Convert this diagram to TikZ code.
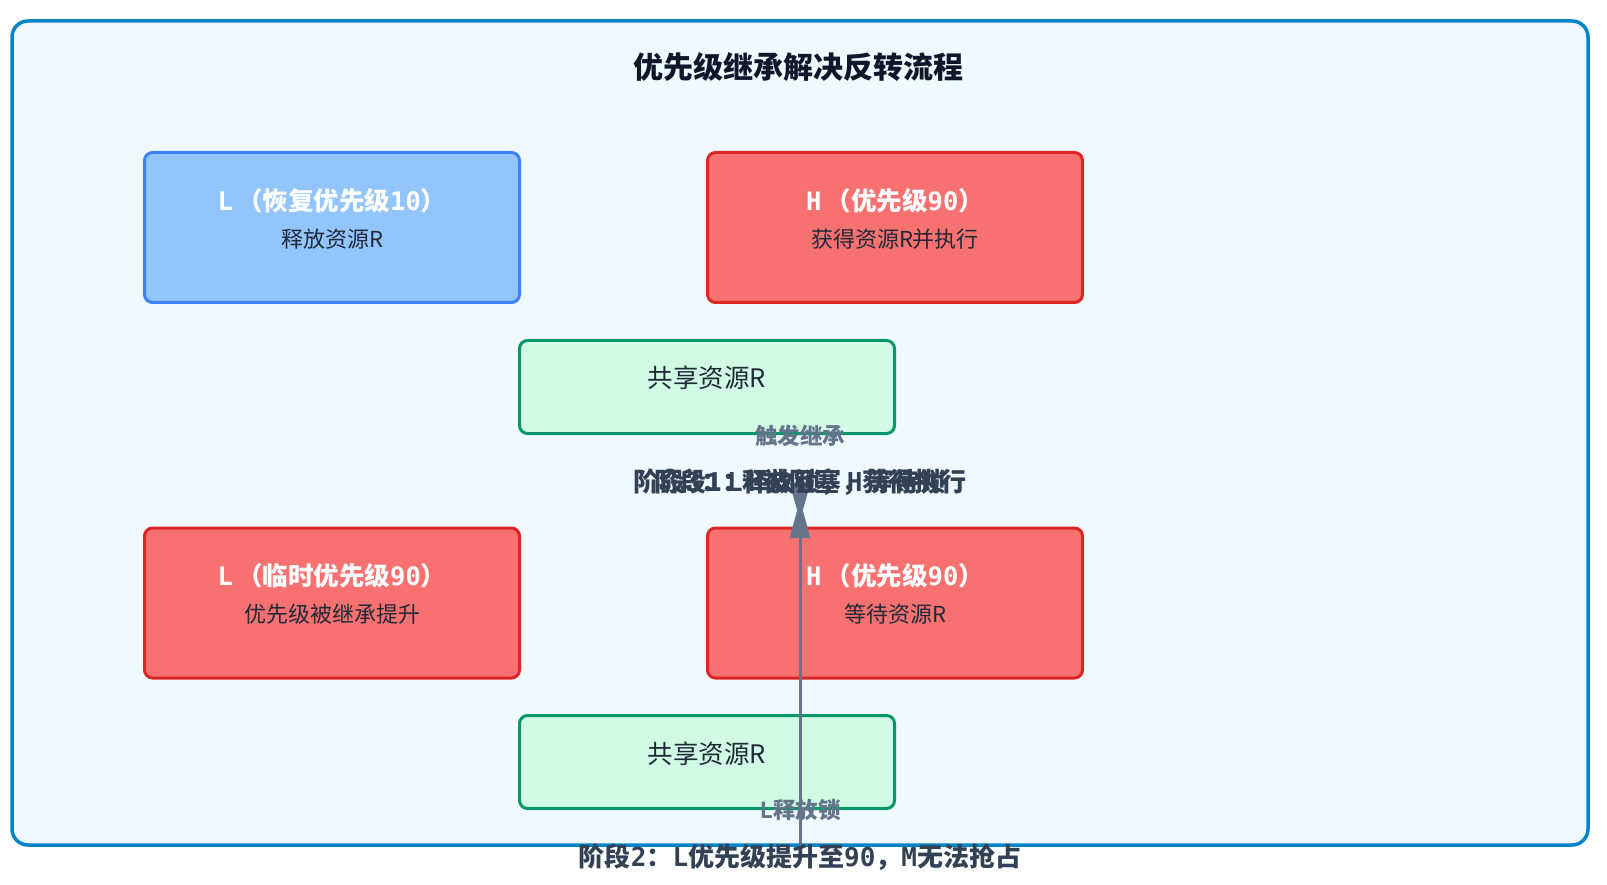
\documentclass[tikz,border=0pt]{standalone}
\usepackage{fontspec}
\setmainfont{Noto Sans CJK SC}
\setmonofont{DejaVu Sans Mono}
\usepackage{xcolor}
\usepackage{tikz}
\usetikzlibrary{positioning,arrows.meta}

\definecolor{frameline}{HTML}{0284C7}
\definecolor{framefill}{HTML}{F0F9FF}
\definecolor{blueline}{HTML}{3B82F6}
\definecolor{bluefill}{HTML}{93C5FD}
\definecolor{redline}{HTML}{DC2626}
\definecolor{redfill}{HTML}{F87171}
\definecolor{greenline}{HTML}{059669}
\definecolor{greenfill}{HTML}{D1FAE5}
\definecolor{slate}{HTML}{64748B}
\definecolor{darktext}{HTML}{334155}
\definecolor{boxtext}{HTML}{1F2937}
\definecolor{titletext}{HTML}{0F172A}

\newcommand{\lat}[1]{{\ttfamily #1}}

\begin{document}
\begin{tikzpicture}[
						x=1pt, y=-1pt,
						frame_box/.style={
							draw=frameline, fill=framefill, line width=3.5pt,
							rounded corners=16pt
						},
						task_box/.style={
							line width=3pt, rounded corners=8pt,
							minimum width=375pt, minimum height=150pt
						},
						res_box/.style={
							draw=greenline, fill=greenfill, line width=3pt, rounded corners=8pt,
							minimum width=375pt, minimum height=93pt
						},
						title_text/.style={
							font=\fontsize{30}{35}\selectfont\bfseries, text=titletext
						},
						box_title/.style={
							font=\fontsize{25.5}{30}\selectfont\bfseries, text=white
						},
						box_text/.style={
							font=\fontsize{22}{26}\selectfont, text=boxtext
						},
						res_text/.style={
							font=\fontsize{25.5}{30}\selectfont, text=boxtext
						},
						link/.style={
							-{Triangle[length=38pt, width=20pt]}, slate, line width=3pt
						},
						link_text/.style={
							font=\fontsize{22.5}{26}\selectfont\bfseries, text=slate
						},
						phase_text/.style={
							font=\fontsize{26}{30}\selectfont\bfseries, text=darktext
						}
						]
						\useasboundingbox (0,0) rectangle (1607,885);
						
						% === 外框与标题 ===
						\draw[frame_box] (12,21) rectangle (1588,845);
						\node[title_text] (title) at (798,67) {优先级继承解决反转流程};
						
						% === 上组：L恢复, H执行 ===
						\node[task_box, draw=blueline, fill=bluefill] (ltop) at (332,227.5) {};
						\node[box_title] (ltop_t) at (332,201) {\lat{L}\,（恢复优先级\lat{10}）};
						\node[box_text] (ltop_s) at (332,239) {释放资源R};
						
						\node[task_box, draw=redline, fill=redfill] (htop) at (895,227.5) {};
						\node[box_title] (htop_t) at (895,201) {\lat{H}\,（优先级\lat{90}）};
						\node[box_text] (htop_s) at (895,239) {获得资源R并执行};
						
						\node[res_box] (rtop) at (707,387) {};
						\node[res_text] (rtop_t) at (707,378) {共享资源R};
						
						% === 下组：L提升, H等待 ===
						\node[task_box, draw=redline, fill=redfill] (lbot) at (332,603) {};
						\node[box_title] (lbot_t) at (332,576) {\lat{L}\,（临时优先级\lat{90}）};
						\node[box_text] (lbot_s) at (332,614) {优先级被继承提升};
						
						\node[task_box, draw=redline, fill=redfill] (hbot) at (895,603) {};
						\node[box_title] (hbot_t) at (895,576) {\lat{H}\,（优先级\lat{90}）};
						\node[box_text] (hbot_s) at (895,614) {等待资源R};
						
						\node[res_box] (rbot) at (707,762) {};
						\node[res_text] (rbot_t) at (707,754) {共享资源R};
						
						% 箭头
						\coordinate (arr_bot) at (800,846);
						\coordinate (arr_top) at (800,500);
						\draw[link] (arr_bot) -- (arr_top);
						\coordinate (tip_a) at (800,483);
						\coordinate (tip_b) at (800,521);
						\draw[link] (tip_a) -- (tip_b);
						
						% 箭头标签
						\node[link_text] (lab_top) at (800,436) {触发继承};
						\node[link_text] (lab_bot) at (800,810) {\lat{L}释放锁};
						
						% === 阶段说明 ===
						\node[phase_text] (phase1) at (800,482) {阶段1：\lat{H}被阻塞，等待锁};
						\node[phase_text] (phase3) at (800,482) {阶段\lat{3}：\lat{L}释放锁，\lat{H}获得执行};
						\node[phase_text] (phase2) at (800,857) {阶段\lat{2}：\lat{L}优先级提升至\lat{90}，\lat{M}无法抢占};
						
					\end{tikzpicture}
\end{document}
